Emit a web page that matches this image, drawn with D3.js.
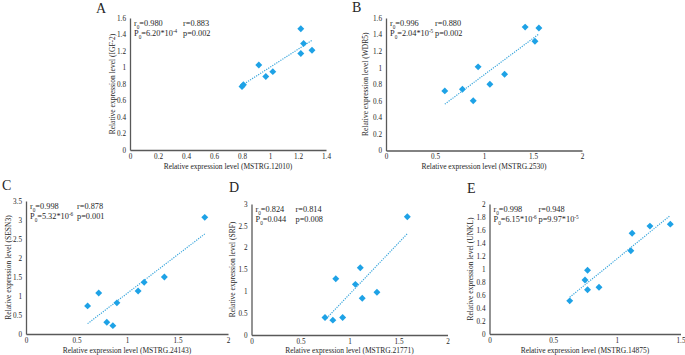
<!DOCTYPE html>
<html>
<head>
<meta charset="utf-8">
<script src="https://cdn.jsdelivr.net/npm/d3@7"></script>
<style>
  body { margin: 0; background: #fff; }
  svg text { font-family: "Liberation Serif", "Times New Roman", Times, serif; fill: #262626; }
</style>
</head>
<body>
<div id="chart"></div>
<script>
// panel data
const panelIds = ["A", "B", "C", "D", "E"];
const xGenes = ["MSTRG.12010", "MSTRG.2530", "MSTRG.24143", "MSTRG.21771", "MSTRG.14875"];
const yGenes = ["IGF-2", "WDR5", "SESN3", "SRF", "UNKL"];

const xA = [1.22, 1.24, 1.22, 1.30, 0.92, 0.97, 1.02, 0.80, 0.81];
const yA = [1.47, 1.29, 1.17, 1.21, 1.03, 0.89, 0.95, 0.77, 0.79];
const xB = [0.60, 0.78, 0.89, 0.94, 1.06, 1.21, 1.42, 1.52, 1.56];
const yB = [0.72, 0.74, 0.60, 1.01, 0.80, 0.92, 1.49, 1.32, 1.48];
const xC = [0.61, 0.72, 0.80, 0.86, 0.90, 1.11, 1.17, 1.37, 1.77];
const yC = [0.74, 1.08, 0.31, 0.22, 0.82, 1.13, 1.36, 1.50, 3.07];
const xD = [0.75, 0.83, 0.93, 0.86, 1.06, 1.11, 1.13, 1.28, 1.59];
const yD = [0.40, 0.34, 0.40, 1.29, 1.16, 1.54, 0.84, 0.98, 2.71];
const xE = [0.63, 0.75, 0.77, 0.77, 0.86, 1.11, 1.12, 1.26, 1.42];
const yE = [0.51, 0.83, 0.98, 0.68, 0.72, 1.28, 1.55, 1.66, 1.69];
const xSeries = [xA, xB, xC, xD, xE];
const ySeries = [yA, yB, yC, yD, yE];

const xMax = [1.4, 2, 2, 2, 1.5];
const xStep = [0.2, 0.5, 0.5, 0.5, 0.5];
const yMax = [1.6, 1.6, 3.5, 3, 2];
const yStep = [0.2, 0.2, 0.5, 0.5, 0.2];

const r0Values = ["0.980", "0.996", "0.998", "0.824", "0.998"];
const rValues = ["0.883", "0.880", "0.878", "0.814", "0.948"];
const p0Base = ["6.20*10", "2.04*10", "5.32*10", "0.044", "6.15*10"];
const p0Exp = ["-4", "-5", "-6", "", "-6"];
const pBase = ["0.002", "0.002", "0.001", "0.008", "9.97*10"];
const pExp = ["", "", "", "", "-5"];

// layout of each panel in the 685x355 page
const frames = [
  { left: 130, right: 326, top: 18, bottom: 150, labelX: 96, labelY: 13, yTitleX: 112, xTitleY: 168.5, col2: 49 },
  { left: 386, right: 582, top: 18, bottom: 150.5, labelX: 352, labelY: 12, yTitleX: 365, xTitleY: 168.5, col2: 45 },
  { left: 26, right: 228, top: 201, bottom: 334, labelX: 2, labelY: 190, yTitleX: 8, xTitleY: 352.5, col2: 47 },
  { left: 251.5, right: 447.5, top: 204, bottom: 335, labelX: 229, labelY: 192, yTitleX: 232, xTitleY: 352.5, col2: 40 },
  { left: 489.5, right: 680.5, top: 204, bottom: 334, labelX: 467, labelY: 193, yTitleX: 470, xTitleY: 352.5, col2: 45 }
];

const width = 685, height = 355;
const pointColor = "#1ea2e6";
const lineColor = "#3aa6dc";
const axisColor = "#595959";
const serif = "'Liberation Serif', 'Times New Roman', Times, serif";

const svg = d3.select("#chart")
  .append("svg")
  .attr("width", width)
  .attr("height", height)
  .attr("font-family", serif);

// adds "base" + subscript/superscript pieces to a text element
const addRich = (sel, parts) => {
  parts.forEach(p => {
    const t = sel.append("tspan").text(p.text);
    if (p.sub) t.attr("baseline-shift", "sub").style("font-size", "5.2px");
    if (p.sup) t.attr("baseline-shift", "super").style("font-size", "5.2px");
  });
};

panelIds.forEach((id, i) => {
  const f = frames[i];
  const xs = xSeries[i], ys = ySeries[i];

  const x = d3.scaleLinear().domain([0, xMax[i]]).range([f.left, f.right]);
  const y = d3.scaleLinear().domain([0, yMax[i]]).range([f.bottom, f.top]);

  const g = svg.append("g");

  const xTicks = d3.range(0, xMax[i] + 1e-9, xStep[i]);
  const yTicks = d3.range(0, yMax[i] + 1e-9, yStep[i]);

  const xAxis = d3.axisBottom(x)
    .tickValues(xTicks)
    .tickSize(0)
    .tickPadding(3.5)
    .tickFormat(d3.format("~g"));
  const yAxis = d3.axisLeft(y)
    .tickValues(yTicks)
    .tickSize(0)
    .tickPadding(4)
    .tickFormat(d3.format("~g"));

  const gx = g.append("g")
    .attr("transform", `translate(0, ${f.bottom})`)
    .call(xAxis);
  const gy = g.append("g")
    .attr("transform", `translate(${f.left}, 0)`)
    .call(yAxis);

  [gx, gy].forEach(a => {
    a.attr("font-family", serif).attr("font-size", 7.2);
    a.select(".domain").attr("stroke", axisColor).attr("stroke-width", 1.3);
    a.selectAll("text").attr("fill", "#404040");
  });

  // regression trend line
  const mx = d3.mean(xs), my = d3.mean(ys);
  const slope = d3.sum(xs, (v, k) => (v - mx) * (ys[k] - my)) / d3.sum(xs, v => (v - mx) ** 2);
  const x0 = d3.min(xs), x1 = d3.max(xs);
  const fit = [[x0, my + slope * (x0 - mx)], [x1, my + slope * (x1 - mx)]];

  g.append("path")
    .datum(fit)
    .attr("d", d3.line().x(d => x(d[0])).y(d => y(d[1])))
    .attr("fill", "none")
    .attr("stroke", lineColor)
    .attr("stroke-width", 1.2)
    .attr("stroke-dasharray", "1.2,1.2");

  // points: diamonds (rotated squares)
  g.selectAll(".pt")
    .data(xs.map((v, k) => [v, ys[k]]))
    .join("path")
    .attr("class", "pt")
    .attr("d", d3.symbol(d3.symbolSquare, 24))
    .attr("transform", d => `translate(${x(d[0])}, ${y(d[1])}) rotate(45)`)
    .attr("fill", pointColor);

  // axis titles
  g.append("text")
    .attr("x", (f.left + f.right) / 2)
    .attr("y", f.xTitleY)
    .attr("text-anchor", "middle")
    .style("font-size", "7.5px")
    .text(`Relative expression level (${xGenes[i]})`);

  g.append("text")
    .attr("transform", `translate(${f.yTitleX}, ${(f.top + f.bottom) / 2}) rotate(-90)`)
    .attr("dy", "0.35em")
    .attr("text-anchor", "middle")
    .style("font-size", "7.5px")
    .text(`Relative expression level (${yGenes[i]})`);

  // panel letter
  g.append("text")
    .attr("x", f.labelX)
    .attr("y", f.labelY)
    .style("font-size", "14px")
    .text(id);

  // statistics
  const tx = f.left + 4;
  const line1 = f.top + 8, line2 = f.top + 17.5;
  const fs = "8.3px";

  addRich(g.append("text").attr("x", tx).attr("y", line1).style("font-size", fs),
    [{ text: "r" }, { text: "0", sub: true }, { text: "=" + r0Values[i] }]);
  addRich(g.append("text").attr("x", tx + f.col2).attr("y", line1).style("font-size", fs),
    [{ text: "r=" + rValues[i] }]);

  const p0Parts = [{ text: "P" }, { text: "0", sub: true }, { text: "=" + p0Base[i] }];
  if (p0Exp[i]) p0Parts.push({ text: p0Exp[i], sup: true });
  addRich(g.append("text").attr("x", tx).attr("y", line2).style("font-size", fs), p0Parts);

  const pParts = [{ text: "p=" + pBase[i] }];
  if (pExp[i]) pParts.push({ text: pExp[i], sup: true });
  addRich(g.append("text").attr("x", tx + f.col2).attr("y", line2).style("font-size", fs), pParts);
});
</script>
</body>
</html>
